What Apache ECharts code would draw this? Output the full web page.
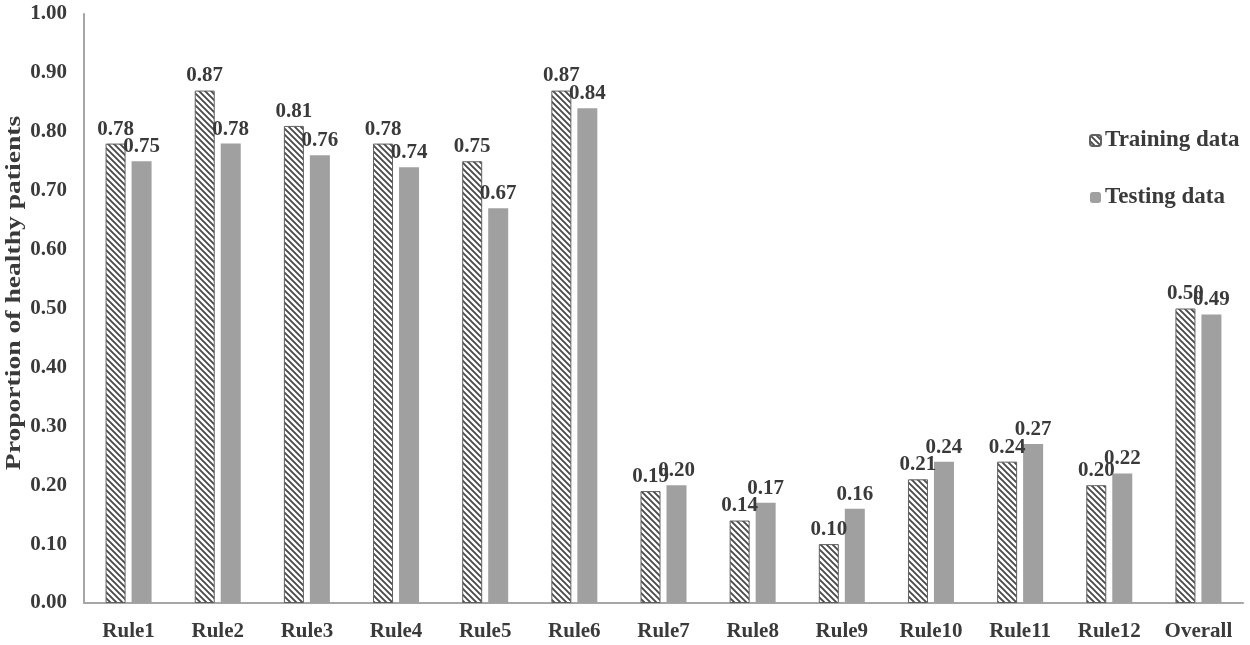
<!DOCTYPE html>
<html>
<head>
<meta charset="utf-8">
<script src="https://cdn.jsdelivr.net/npm/echarts@6/dist/echarts.min.js"></script>
<style>html,body{margin:0;padding:0;background:#fff;}#c{width:1250px;height:645px;}</style>
</head>
<body>
<div id="c"></div>
<script>
const categories = ['Rule1','Rule2','Rule3','Rule4','Rule5','Rule6','Rule7','Rule8','Rule9','Rule10','Rule11','Rule12','Overall'];
const trainingValues = [0.78,0.87,0.81,0.78,0.75,0.87,0.19,0.14,0.10,0.21,0.24,0.20,0.50];
const testingValues = [0.75,0.78,0.76,0.74,0.67,0.84,0.20,0.17,0.16,0.24,0.27,0.22,0.49];
const yAxisTitle = 'Proportion of healthy patients';

function hatch(){
  const c = document.createElement('canvas');
  c.width = 6; c.height = 6;
  const g = c.getContext('2d');
  g.fillStyle = '#ffffff'; g.fillRect(0,0,6,6);
  g.strokeStyle = '#4a4a4a'; g.lineWidth = 1.9;
  g.beginPath();
  g.moveTo(-3,-3); g.lineTo(9,9);
  g.moveTo(-3,3); g.lineTo(3,9);
  g.moveTo(3,-3); g.lineTo(9,3);
  g.stroke();
  return c;
}
const font = '"Liberation Serif", "Times New Roman", serif';
const txt = '#3a3a3a';
const chart = echarts.init(document.getElementById('c'));
const lbl = {show:true, position:'top', distance:4, fontFamily:font, fontWeight:'bold', fontSize:21, color:txt, formatter:p=>p.value.toFixed(2)};
chart.setOption({
  animation:false,
  backgroundColor:'#fff',
  grid:{left:84, right:7, top:14, bottom:42, containLabel:false, outerBoundsMode:'none'},
  legend:{
    orient:'vertical', left:1084, top:124, itemGap:34, itemWidth:11, itemHeight:11,
    textStyle:{fontFamily:font, fontWeight:'bold', fontSize:23, color:txt, padding:[0,0,0,-1]},
    data:['Training data','Testing data']
  },
  xAxis:{
    type:'category', data:categories,
    axisLine:{lineStyle:{color:'#a6a6a6', width:2}},
    axisTick:{show:false},
    axisLabel:{fontFamily:font, fontWeight:'bold', fontSize:21, color:txt, margin:18}
  },
  yAxis:{
    type:'value', min:0, max:1, interval:0.1,
    axisLine:{show:true, lineStyle:{color:'#a6a6a6', width:2}},
    axisTick:{show:false}, splitLine:{show:false},
    axisLabel:{fontFamily:font, fontWeight:'bold', fontSize:21, color:txt, margin:17, formatter:v=>v.toFixed(2)}
  },
  graphic:[{
    type:'text', x:15, y:293, rotation:Math.PI/2, scaleX:1.38, scaleY:1,
    style:{text:yAxisTitle, fontFamily:font, fontWeight:'bold', fontSize:20, fill:txt, align:'center', verticalAlign:'middle'}
  }],
  series:[
    {name:'Training data', type:'bar', data:trainingValues, barWidth:20, barGap:'30%',
     itemStyle:{color:{image:hatch(), repeat:'repeat'}, borderColor:'#606060', borderWidth:1}, label:lbl},
    {name:'Testing data', type:'bar', data:testingValues, barWidth:20,
     itemStyle:{color:'#a0a0a0'}, label:lbl}
  ]
});
</script>
</body>
</html>
